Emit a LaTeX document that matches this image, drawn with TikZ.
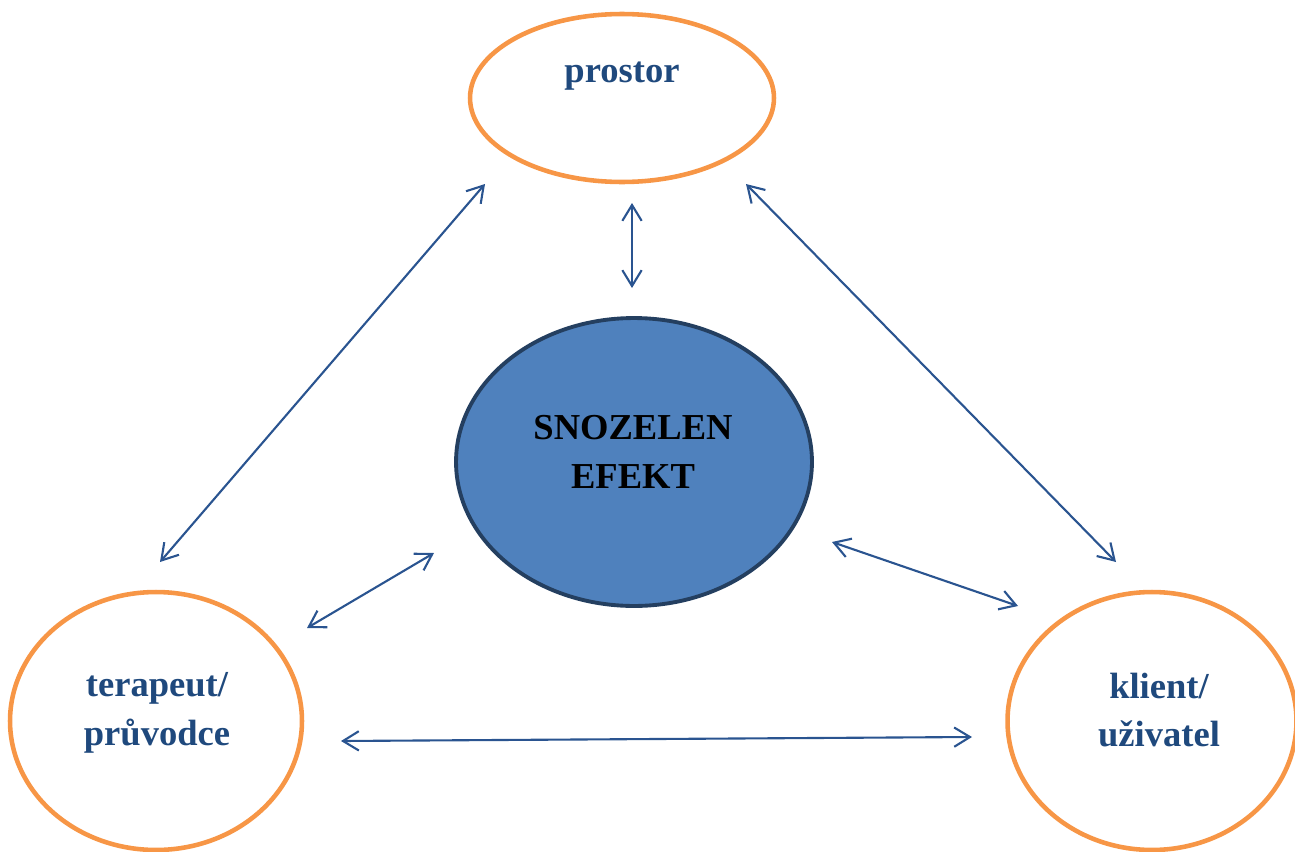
\documentclass[tikz,border=0pt]{standalone}
\usepackage{fontspec}
\setmainfont{Liberation Serif}
\usetikzlibrary{arrows.meta,shapes.geometric}
\definecolor{ringorange}{HTML}{F79646}
\definecolor{corefill}{HTML}{4F81BD}
\definecolor{coreline}{HTML}{243F60}
\definecolor{textblue}{HTML}{1F497D}
\definecolor{arrowblue}{HTML}{2A5490}

\begin{document}
\begin{tikzpicture}[x=0.02cm,y=-0.02cm,
  >={Straight Barb[length=9pt,width=11pt]},
  ring/.style={ellipse,draw=ringorange,line width=2.6pt,inner sep=0pt},
  core/.style={ellipse,draw=coreline,fill=corefill,line width=2.2pt,inner sep=0pt},
  lbl/.style={font=\fontsize{20.8}{27.8}\selectfont\bfseries,text=textblue,align=center},
  link/.style={<->,draw=arrowblue,line width=1.2pt}]
  \path[use as bounding box] (0,0) rectangle (1295,852);
  % ellipses
  \node[ring,minimum width=6.08cm,minimum height=3.36cm] (prostor) at (622,98) {};
  \node[core,minimum width=7.12cm,minimum height=5.76cm] (efekt) at (634,462) {};
  \node[ring,minimum width=5.84cm,minimum height=5.16cm] (terapeut) at (156,721) {};
  \node[ring,minimum width=5.78cm,minimum height=5.16cm] (klient) at (1152,721) {};
  % labels
  \node[lbl] (tprostor) at (622,76) {prostor};
  \node[lbl,text=black] (tefekt) at (633,452) {SNOZELEN\\EFEKT};
  \node[lbl] (tterapeut) at (157,713) {terapeut/\\průvodce};
  \node[lbl] (tklient) at (1159,710) {klient/\\uživatel};
  % arrow ends
  \coordinate (pv1) at (632,203);  \coordinate (pv2) at (632,288);
  \coordinate (pl1) at (485,184);  \coordinate (pl2) at (160,562);
  \coordinate (pr1) at (746,184);  \coordinate (pr2) at (1116,562);
  \coordinate (cl1) at (434,553);  \coordinate (cl2) at (307,628);
  \coordinate (cr1) at (832,542);  \coordinate (cr2) at (1018,606);
  \coordinate (bb1) at (341,741);  \coordinate (bb2) at (972,737);
  \draw[link] (pv1) -- (pv2);
  \draw[link] (pl1) -- (pl2);
  \draw[link] (pr1) -- (pr2);
  \draw[link] (cl1) -- (cl2);
  \draw[link] (cr1) -- (cr2);
  \draw[link] (bb1) -- (bb2);
\end{tikzpicture}
\end{document}
